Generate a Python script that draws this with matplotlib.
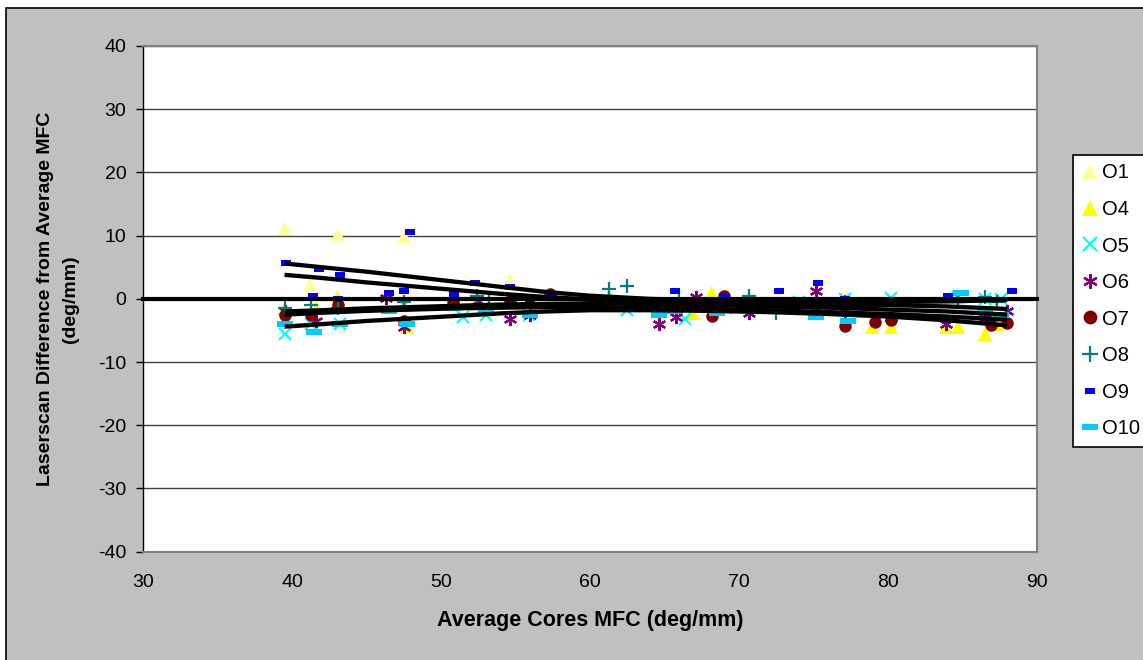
import matplotlib
matplotlib.use("Agg")
import matplotlib.pyplot as plt
from matplotlib.patches import Rectangle
from matplotlib.lines import Line2D

plt.rcParams['font.family'] = ['Liberation Sans', 'DejaVu Sans']
plt.rcParams['axes.unicode_minus'] = False

# ---------------- data ----------------
o1_x = [39.5, 41.2, 43.1, 43.0, 47.5, 54.6, 52.4, 57.2, 68.1, 69.2, 75.2, 77.2, 79.2, 84.8, 86.9]
o1_y = [11.2, 2.3, 10.3, 0.5, 10.0, 3.0, 0.5, 0.3, 1.0, 0.8, 0.3, 0.4, -0.5, -1.0, -1.2]

o4_x = [39.5, 41.6, 43.1, 47.7, 52.3, 54.6, 61.3, 66.9, 68.2, 69.1, 77.1, 78.9, 80.2, 83.9, 84.7, 86.5, 87.4]
o4_y = [-1.5, -1.5, 0.2, -4.5, -0.5, -0.2, 0.5, -2.2, 1.0, 0.4, -0.5, -4.5, -4.5, -4.5, -4.5, -5.5, -4.0]

o5_x = [39.5, 41.3, 43.2, 47.5, 51.5, 53.0, 55.9, 62.5, 66.4, 69.1, 74.0, 77.1, 80.2, 84.7, 86.5, 87.6]
o5_y = [-5.5, -4.0, -4.0, -1.0, -2.8, -2.5, -2.5, -1.8, -3.2, -1.5, -0.5, 0.0, 0.2, 0.3, 0.0, 0.0]

o6_x = [39.5, 41.6, 46.3, 47.5, 52.5, 54.6, 56.0, 64.6, 65.8, 67.1, 70.7, 75.2, 77.1, 80.2, 83.9, 86.5, 88.0]
o6_y = [-2.0, -3.5, 0.2, -4.5, -0.3, -3.2, -2.5, -4.0, -2.8, 0.3, -2.2, 1.3, -2.0, -3.0, -4.0, -3.0, -2.0]

o7_x = [39.5, 41.3, 43.1, 47.5, 50.8, 54.6, 57.3, 62.5, 64.6, 68.2, 69.0, 75.2, 77.1, 79.1, 80.2, 86.9, 88.0]
o7_y = [-2.5, -2.5, -1.0, -3.5, -0.5, -0.3, 0.8, -0.5, -2.0, -2.7, 0.5, -0.8, -4.3, -3.6, -3.3, -4.2, -3.8]

o8_x = [39.5, 41.3, 43.1, 47.5, 52.4, 53.2, 61.3, 62.5, 66.0, 70.7, 72.5, 77.1, 84.7, 86.5, 87.3]
o8_y = [-1.5, -1.0, -1.5, -0.5, 0.5, 0.0, 1.5, 2.0, 0.0, 0.5, -2.3, -0.5, -0.5, 0.3, -0.5]

o9_x = [39.6, 41.4, 41.8, 43.2, 43.1, 46.5, 47.5, 47.9, 50.9, 52.3, 54.6, 56.0, 57.3, 65.7, 69.0, 72.7, 75.3, 77.1, 84.0, 88.3]
o9_y = [5.6, 0.5, 4.7, 3.8, -0.1, 0.9, 1.3, 10.5, 0.8, 2.5, 1.8, -0.3, 0.5, 1.3, 0.5, 1.3, 2.5, 0.0, 0.4, 1.3]

o10_x = [39.5, 41.5, 43.2, 46.5, 47.7, 50.8, 53.0, 56.0, 64.6, 65.7, 68.5, 75.2, 77.3, 79.0, 84.9, 86.5, 87.6]
o10_y = [-4.0, -5.3, -4.0, -2.0, -4.0, -1.5, -2.0, -2.5, -2.5, -2.0, -2.2, -2.8, -3.5, -0.5, 1.0, -2.0, -2.5]

# black trend / band lines
line_x = [39.5, 42, 45, 48, 51, 54, 57, 60, 64, 68, 72, 76, 80, 84, 88]
line_a = [5.6, 5.0, 4.3, 3.5, 2.7, 1.9, 1.1, 0.5, 0.0, -0.3, -0.5, -0.6, -0.5, -0.4, -0.2]
line_b = [3.8, 3.3, 2.6, 2.0, 1.4, 0.8, 0.3, -0.1, -0.4, -0.6, -0.8, -0.9, -1.0, -1.2, -1.6]
line_c = [-2.0, -1.8, -1.5, -1.3, -1.1, -0.9, -0.8, -0.7, -0.8, -1.0, -1.2, -1.4, -1.7, -2.0, -2.5]
line_d = [-2.5, -2.2, -1.9, -1.7, -1.5, -1.4, -1.3, -1.3, -1.4, -1.6, -1.8, -2.1, -2.4, -2.8, -3.3]
line_e = [-4.4, -4.0, -3.5, -3.1, -2.7, -2.3, -2.0, -1.8, -1.8, -1.9, -2.1, -2.4, -2.8, -3.4, -4.2]
zero_x = [30, 90]
zero_y = [0, 0]

x_ticks = [30, 40, 50, 60, 70, 80, 90]
y_ticks = [-40, -30, -20, -10, 0, 10, 20, 30, 40]

# ---------------- figure ----------------
W, H = 1143, 660
fig = plt.figure(figsize=(W / 100, H / 100), dpi=100, facecolor='white')

# chart area (grey with black border)
bg = Rectangle((6 / W, -0.05), 1.2, 1 - 8 / H + 0.05, transform=fig.transFigure,
               facecolor='#C0C0C0', edgecolor='black', linewidth=1.2, zorder=-10)
fig.add_artist(bg)

ax = fig.add_axes([143 / W, 1 - 551.7 / H, (1037 - 143) / W, (551.7 - 46) / H])
ax.set_zorder(1)
ax.set_facecolor('white')
ax.set_xlim(30, 90)
ax.set_ylim(-40, 40)
ax.set_xticks(x_ticks)
ax.set_yticks(y_ticks)
ax.tick_params(axis='x', length=0, pad=16, labelsize=14)
ax.tick_params(axis='y', length=5, width=1, direction='out', pad=7, labelsize=14)
ax.yaxis.grid(True, color='#404040', linewidth=1)
ax.set_axisbelow(True)
for s in ['top', 'right', 'bottom']:
    ax.spines[s].set_color('#808080')
    ax.spines[s].set_linewidth(1.5)
ax.spines['left'].set_color('black')
ax.spines['left'].set_linewidth(1)

rect_small = [(-1, -0.55), (1, -0.55), (1, 0.55), (-1, 0.55), (-1, -0.55)]
rect_wide = [(-1, -0.33), (1, -0.33), (1, 0.33), (-1, 0.33), (-1, -0.33)]

series = [
    ('O1', o1_x, o1_y, dict(marker='^', color='#FFFF99', ms=10, mew=0)),
    ('O4', o4_x, o4_y, dict(marker='^', color='#FFFF00', ms=10, mew=0)),
    ('O5', o5_x, o5_y, dict(marker='x', color='#00FFFF', ms=9, mew=1.6)),
    ('O6', o6_x, o6_y, dict(marker=(6, 2, 0), color='#800080', ms=9.5, mew=1.6)),
    ('O7', o7_x, o7_y, dict(marker='o', color='#800000', ms=9, mew=0)),
    ('O8', o8_x, o8_y, dict(marker='+', color='#008080', ms=10, mew=1.6)),
    ('O9', o9_x, o9_y, dict(marker=rect_small, color='#0000FF', ms=7, mew=0)),
    ('O10', o10_x, o10_y, dict(marker=rect_wide, color='#00CCFF', ms=11, mew=0)),
]

handles = []
for name, xs, ys, st in series:
    ax.plot(xs, ys, linestyle='none', zorder=3, **st)
    handles.append(Line2D([], [], linestyle='none', label=name, **st))

for ly in [line_a, line_b, line_c, line_d, line_e]:
    ax.plot(line_x, ly, color='black', linewidth=3.1, zorder=4, solid_capstyle='butt')
ax.plot(zero_x, zero_y, color='black', linewidth=3, zorder=4, clip_on=False)

ax.set_xlabel('Average Cores MFC (deg/mm)', fontsize=15.5, fontweight='bold', labelpad=14)
ax.set_ylabel('Laserscan Difference from Average MFC\n(deg/mm)', fontsize=14,
              fontweight='bold', labelpad=14, linespacing=1.55)

leg = fig.legend(handles=handles, loc='upper left', bbox_to_anchor=(1073 / W, 1 - 155 / H),
                 bbox_transform=fig.transFigure, frameon=True, fancybox=False, framealpha=1,
                 fontsize=14.5, labelspacing=0.87, handlelength=0.8, handletextpad=0.2,
                 borderpad=0.42, borderaxespad=0, markerscale=1.1)
leg.set_zorder(5)
leg.get_frame().set_edgecolor('black')
leg.get_frame().set_linewidth(1.2)
leg.get_frame().set_facecolor('white')

fig.savefig('out.png', dpi=100, facecolor=fig.get_facecolor())
